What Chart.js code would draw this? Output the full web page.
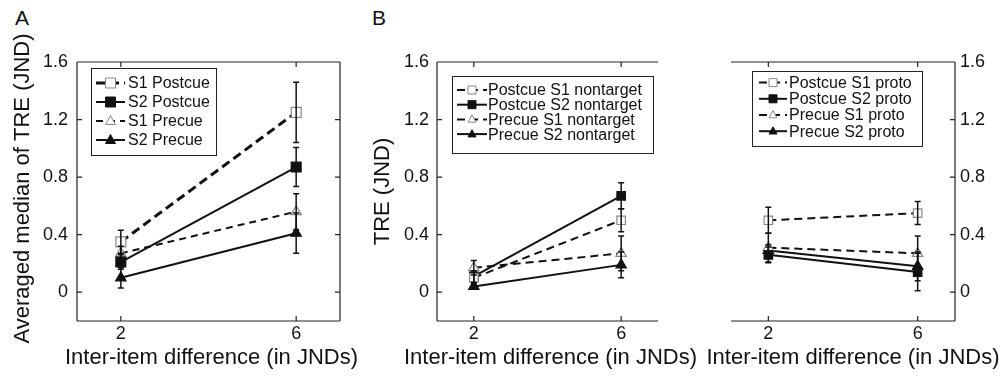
<!DOCTYPE html>
<html>
<head>
<meta charset="utf-8">
<script src="https://cdn.jsdelivr.net/npm/chart.js@4.4.0/dist/chart.umd.min.js"></script>
<style>
  html, body { margin: 0; padding: 0; background: #fff; }
  #wrap { position: relative; width: 1008px; height: 384px; overflow: hidden;
          font-family: "Liberation Sans", Arial, Helvetica, sans-serif; }
  canvas { position: absolute; top: 0; }
  .tag { position: absolute; top: 7px; font-size: 21px; line-height: 21px; color: #111; }
</style>
</head>
<body>
<div id="wrap">
  <div class="tag" style="left:15px">A</div>
  <div class="tag" style="left:372px">B</div>
  <canvas id="panelA" width="400" height="384" style="left:0px;width:400px;height:384px"></canvas>
  <canvas id="panelB" width="380" height="384" style="left:340px;width:380px;height:384px"></canvas>
  <canvas id="panelC" width="368" height="384" style="left:640px;width:368px;height:384px"></canvas>
</div>
<script>
const FONT = '"Liberation Sans", Arial, Helvetica, sans-serif';
const INK = '#111';
const OPEN = '#888';

const xValues = [2, 6];
const xTicks = [2, 6];
const yTicks = [0, 0.4, 0.8, 1.2, 1.6];
const xTitle = 'Inter-item difference (in JNDs)';

// panel A
const labelsA = ['S1 Postcue', 'S2 Postcue', 'S1 Precue', 'S2 Precue'];
const s1PostA = [0.35, 1.25];
const s1PostAErr = [0.08, 0.21];
const s2PostA = [0.21, 0.87];
const s2PostAErr = [0.05, 0.135];
const s1PreA = [0.27, 0.56];
const s1PreAErr = [0.05, 0.125];
const s2PreA = [0.10, 0.41];
const s2PreAErr = [0.07, 0.14];

// panel B (nontarget)
const labelsB = ['Postcue S1 nontarget', 'Postcue S2 nontarget', 'Precue S1 nontarget', 'Precue S2 nontarget'];
const s1PostB = [0.10, 0.50];
const s1PostBErr = [0.05, 0.08];
const s2PostB = [0.11, 0.67];
const s2PostBErr = [0.04, 0.09];
const s1PreB = [0.17, 0.27];
const s1PreBErr = [0.05, 0.12];
const s2PreB = [0.04, 0.19];
const s2PreBErr = [0.02, 0.09];

// panel C (proto)
const labelsC = ['Postcue S1 proto', 'Postcue S2 proto', 'Precue S1 proto', 'Precue S2 proto'];
const s1PostC = [0.50, 0.55];
const s1PostCErr = [0.09, 0.08];
const s2PostC = [0.26, 0.14];
const s2PostCErr = [0.055, 0.13];
const s1PreC = [0.31, 0.27];
const s1PreCErr = [0.10, 0.12];
const s2PreC = [0.29, 0.18];
const s2PreCErr = [0.04, 0.10];

function series(label, values, errs, style) {
  return Object.assign({
    label: label,
    data: xValues.map((x, i) => ({ x: x, y: values[i] })),
    errors: errs,
    borderColor: INK,
    borderWidth: 2,
    pointRadius: 6,
    pointBorderWidth: 1.2,
    tension: 0
  }, style);
}

const openSquare = { pointStyle: 'rect', pointBackgroundColor: '#fff', pointBorderColor: OPEN, borderDash: [8, 5] };
const fullSquare = { pointStyle: 'rect', pointBackgroundColor: INK, pointBorderColor: INK };
const openTri = { pointStyle: 'triangle', pointBackgroundColor: '#fff', pointBorderColor: OPEN, borderDash: [8, 5] };
const fullTri = { pointStyle: 'triangle', pointBackgroundColor: INK, pointBorderColor: INK };

// vertical error bars with small caps
const errorBars = {
  id: 'errorBars',
  afterDatasetsDraw(chart) {
    const ctx = chart.ctx, xs = chart.scales.x, ys = chart.scales.y;
    ctx.save();
    ctx.strokeStyle = INK;
    ctx.lineWidth = 1.5;
    ctx.setLineDash([]);
    chart.data.datasets.forEach(ds => {
      ds.data.forEach((p, i) => {
        const e = ds.errors[i];
        const px = xs.getPixelForValue(p.x);
        const top = ys.getPixelForValue(p.y + e);
        const bot = ys.getPixelForValue(p.y - e);
        ctx.beginPath();
        ctx.moveTo(px, top); ctx.lineTo(px, bot);
        ctx.moveTo(px - 3, top); ctx.lineTo(px + 3, top);
        ctx.moveTo(px - 3, bot); ctx.lineTo(px + 3, bot);
        ctx.stroke();
      });
    });
    ctx.restore();
  }
};

// matlab style box with inward ticks
const frame = {
  id: 'frame',
  afterDatasetsDraw(chart, args, opts) {
    const a = chart.chartArea, ctx = chart.ctx;
    const xs = chart.scales.x, ys = chart.scales.y;
    const sides = opts.sides, tl = 5;
    ctx.save();
    ctx.strokeStyle = '#222';
    ctx.lineWidth = 1.2;
    ctx.setLineDash([]);
    ctx.beginPath();
    if (sides.includes('top')) {
      ctx.moveTo(a.left, a.top); ctx.lineTo(a.right, a.top);
      xs.ticks.forEach(t => { const px = xs.getPixelForValue(t.value); ctx.moveTo(px, a.top); ctx.lineTo(px, a.top + tl); });
    }
    if (sides.includes('bottom')) {
      ctx.moveTo(a.left, a.bottom); ctx.lineTo(a.right, a.bottom);
      xs.ticks.forEach(t => { const px = xs.getPixelForValue(t.value); ctx.moveTo(px, a.bottom); ctx.lineTo(px, a.bottom - tl); });
    }
    if (sides.includes('left')) {
      ctx.moveTo(a.left, a.top); ctx.lineTo(a.left, a.bottom);
      ys.ticks.forEach(t => { const py = ys.getPixelForValue(t.value); ctx.moveTo(a.left, py); ctx.lineTo(a.left + tl, py); });
    }
    if (sides.includes('right')) {
      ctx.moveTo(a.right, a.top); ctx.lineTo(a.right, a.bottom);
      ys.ticks.forEach(t => { const py = ys.getPixelForValue(t.value); ctx.moveTo(a.right, py); ctx.lineTo(a.right - tl, py); });
    }
    ctx.stroke();
    ctx.restore();
  }
};

// axis titles drawn by hand so they are not squeezed to the axis length
const axisTitles = {
  id: 'axisTitles',
  afterDraw(chart, args, opts) {
    const a = chart.chartArea, ctx = chart.ctx;
    ctx.save();
    ctx.fillStyle = INK;
    ctx.font = '22px ' + FONT;
    ctx.textAlign = 'center';
    ctx.textBaseline = 'middle';
    ctx.fillText(opts.x, (a.left + a.right) / 2 + opts.xShift, opts.xY);
    if (opts.y) {
      ctx.translate(opts.yX, (a.top + a.bottom) / 2 + opts.yShift);
      ctx.rotate(-Math.PI / 2);
      ctx.fillText(opts.y, 0, 0);
    }
    ctx.restore();
  }
};

function marker(ctx, ds, x, y, r) {
  ctx.save();
  ctx.setLineDash([]);
  ctx.lineWidth = 1;
  ctx.fillStyle = ds.pointBackgroundColor;
  ctx.strokeStyle = ds.pointBorderColor;
  ctx.beginPath();
  if (ds.pointStyle === 'rect') {
    ctx.rect(x - r, y - r, 2 * r, 2 * r);
  } else {
    ctx.moveTo(x, y - r * 1.1);
    ctx.lineTo(x + r, y + r * 0.7);
    ctx.lineTo(x - r, y + r * 0.7);
    ctx.closePath();
  }
  ctx.fill();
  ctx.stroke();
  ctx.restore();
}

// legend box: line sample + marker + text
const boxLegend = {
  id: 'boxLegend',
  afterDraw(chart, args, opts) {
    const a = chart.chartArea, ctx = chart.ctx;
    const x0 = a.left + opts.dx, y0 = a.top + opts.dy;
    ctx.save();
    ctx.fillStyle = '#fff';
    ctx.fillRect(x0, y0, opts.w, opts.h);
    ctx.strokeStyle = '#222';
    ctx.lineWidth = 1;
    ctx.strokeRect(x0 + 0.5, y0 + 0.5, opts.w, opts.h);
    ctx.font = '16px ' + FONT;
    ctx.textBaseline = 'middle';
    chart.data.datasets.forEach((ds, i) => {
      const cy = y0 + opts.first + i * opts.row;
      const l = x0 + opts.lineFrom, r = x0 + opts.lineTo;
      ctx.strokeStyle = INK;
      ctx.lineWidth = ds.borderWidth;
      ctx.setLineDash(ds.borderDash || []);
      ctx.beginPath(); ctx.moveTo(l, cy); ctx.lineTo(r, cy); ctx.stroke();
      marker(ctx, ds, (l + r) / 2, cy, opts.marker);
      ctx.fillStyle = INK;
      ctx.fillText(ds.label, x0 + opts.textX, cy + 1);
    });
    ctx.restore();
  }
};

function makePanel(id, datasets, cfg) {
  return new Chart(document.getElementById(id), {
    type: 'line',
    data: { datasets: datasets },
    options: {
      responsive: false,
      animation: false,
      devicePixelRatio: 1,
      layout: { padding: cfg.padding },
      plugins: {
        legend: { display: false },
        tooltip: { enabled: false },
        frame: { sides: cfg.sides },
        boxLegend: cfg.legend,
        axisTitles: cfg.titles
      },
      scales: {
        x: {
          type: 'linear', min: 1, max: 7,
          afterBuildTicks: s => { s.ticks = xTicks.map(v => ({ value: v })); },
          afterFit: s => { s.height = 63; },
          grid: { display: false, drawTicks: false },
          border: { display: false },
          ticks: { color: INK, font: { family: FONT, size: 18 }, padding: 2, maxRotation: 0, autoSkip: false }
        },
        y: {
          type: 'linear', min: -0.2, max: 1.6, position: cfg.yPos,
          afterBuildTicks: s => { s.ticks = yTicks.map(v => ({ value: v })); },
          afterFit: s => { s.width = cfg.yWidth; },
          grid: { display: false, drawTicks: false },
          border: { display: false },
          ticks: {
            color: INK, font: { family: FONT, size: 18 }, padding: cfg.yPad, autoSkip: false,
            callback: v => v === 0 ? '0' : v.toFixed(1)
          }
        }
      }
    },
    plugins: [errorBars, frame, boxLegend, axisTitles]
  });
}

makePanel('panelA', [
  series(labelsA[0], s1PostA, s1PostAErr, Object.assign({}, openSquare, { borderWidth: 3, borderDash: [9, 5], pointRadius: 7 })),
  series(labelsA[1], s2PostA, s2PostAErr, Object.assign({}, fullSquare, { pointRadius: 7 })),
  series(labelsA[2], s1PreA, s1PreAErr, Object.assign({}, openTri, { borderDash: [7, 5] })),
  series(labelsA[3], s2PreA, s2PreAErr, fullTri)
], {
  padding: { left: 0, top: 62, right: 60, bottom: 0 },
  sides: ['top', 'bottom', 'left', 'right'],
  yPos: 'left', yWidth: 77, yPad: 9,
  titles: { x: xTitle, xShift: 3, xY: 358, y: 'Averaged median of TRE (JND)', yX: 23, yShift: -3 },
  legend: { dx: 14, dy: 6, w: 125, h: 87, first: 15, row: 19, lineFrom: 5, lineTo: 34, textX: 37, marker: 5 }
});

makePanel('panelB', [
  series(labelsB[0], s1PostB, s1PostBErr, openSquare),
  series(labelsB[1], s2PostB, s2PostBErr, fullSquare),
  series(labelsB[2], s1PreB, s1PreBErr, openTri),
  series(labelsB[3], s2PreB, s2PreBErr, fullTri)
], {
  padding: { left: 0, top: 62, right: 62, bottom: 0 },
  sides: ['top', 'bottom', 'left'],
  yPos: 'left', yWidth: 97, yPad: 8,
  titles: { x: xTitle, xShift: 3, xY: 358, y: 'TRE (JND)', yX: 43, yShift: 0 },
  legend: { dx: 15, dy: 14, w: 201, h: 77, first: 14, row: 14.7, lineFrom: 5, lineTo: 35, textX: 36, marker: 4 }
});

makePanel('panelC', [
  series(labelsC[0], s1PostC, s1PostCErr, openSquare),
  series(labelsC[1], s2PostC, s2PostCErr, fullSquare),
  series(labelsC[2], s1PreC, s1PreCErr, openTri),
  series(labelsC[3], s2PreC, s2PreCErr, fullTri)
], {
  padding: { left: 91, top: 62, right: 0, bottom: 0 },
  sides: ['top', 'bottom', 'right'],
  yPos: 'right', yWidth: 53, yPad: 5,
  titles: { x: xTitle, xShift: 10, xY: 358, y: '', yX: 0, yShift: 0 },
  legend: { dx: 21, dy: 9, w: 170, h: 75, first: 11.6, row: 16.2, lineFrom: 7, lineTo: 35, textX: 37, marker: 4 }
});
</script>
</body>
</html>
